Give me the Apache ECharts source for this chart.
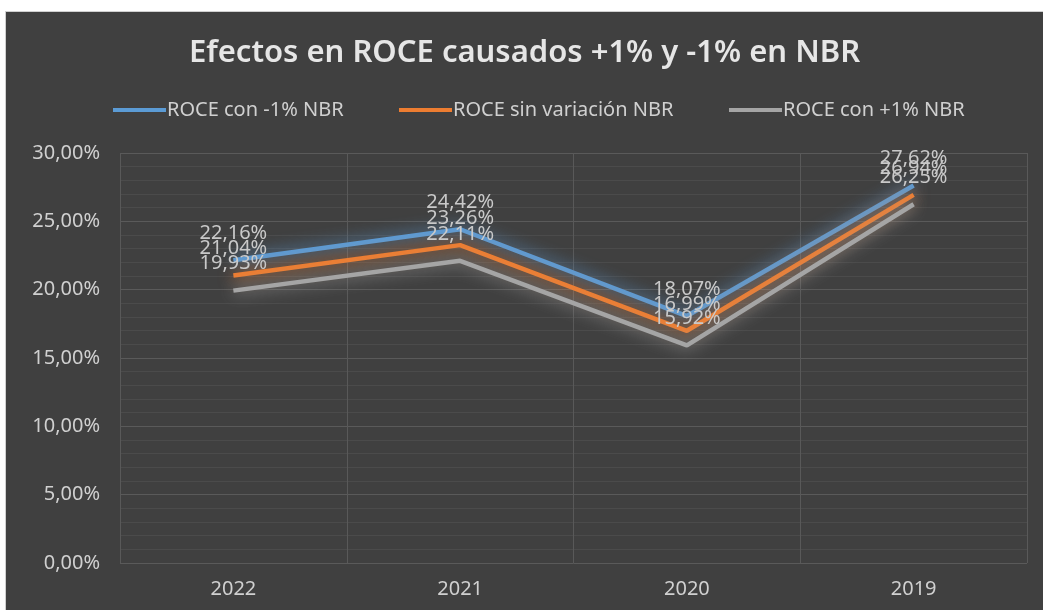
<!DOCTYPE html>
<html>
<head>
<meta charset="utf-8">
<script src="https://cdn.jsdelivr.net/npm/echarts@6/dist/echarts.min.js"></script>
<style>
  html, body { margin: 0; padding: 0; background: #ffffff; }
  #chart {
    position: absolute; left: 5px; top: 11px;
    width: 1038px; height: 599px;
    border-left: 1px solid #d0d0d0; border-top: 1px solid #d0d0d0;
    box-sizing: border-box;
  }
</style>
</head>
<body>
<div id="chart"></div>
<script>
const years = ['2022', '2021', '2020', '2019'];
const roceMinus = [22.16, 24.42, 18.07, 27.62];
const roceBase = [21.04, 23.26, 16.99, 26.94];
const rocePlus = [19.93, 22.11, 15.92, 26.25];
const seriesNames = ['ROCE con -1% NBR', 'ROCE sin variación NBR', 'ROCE con +1% NBR'];
const colors = ['#5b9bd5', '#ed7d31', '#a5a5a5'];

const FONT = '"Noto Sans", sans-serif';
const pct = (v) => v.toFixed(2).replace('.', ',') + '%';

const chart = echarts.init(document.getElementById('chart'));

function line(name, data, color) {
  return {
    name,
    type: 'line',
    data,
    symbol: 'circle',
    symbolSize: 0,
    showSymbol: true,
    itemStyle: { color },
    lineStyle: {
      width: 4.5,
      color,
      shadowColor: color,
      shadowBlur: 16,
    },
    label: {
      show: true,
      position: 'top',
      distance: 17,
      formatter: (p) => pct(p.value),
      color: '#c9c9c9',
      fontFamily: FONT,
      fontSize: 20,
      lineHeight: 20,
    },
    emphasis: { disabled: true },
    z: 3,
  };
}

// one legend per item so each can sit where the original puts it
const legendLefts = [102, 388, 718];
const legends = seriesNames.map((n, i) => ({
  top: 83,
  left: legendLefts[i],
  icon: 'rect',
  itemWidth: 53,
  itemHeight: 4,
  textStyle: { color: '#d0d0d0', fontFamily: FONT, fontSize: 20, padding: [0, 0, 0, -4] },
  data: [n],
}));

chart.setOption({
  backgroundColor: '#404040',
  animation: false,
  title: {
    text: 'Efectos en ROCE causados +1% y -1% en NBR',
    left: 'center',
    top: 21,
    textStyle: {
      color: '#e6e6e6',
      fontFamily: FONT,
      fontSize: 31,
      fontWeight: 600,
    },
  },
  legend: legends,
  grid: { left: 114, right: 16, top: 141, bottom: 47, containLabel: false },
  xAxis: {
    type: 'category',
    data: years,
    boundaryGap: true,
    axisLine: { show: false },
    axisTick: { show: false },
    axisLabel: { color: '#d0d0d0', fontFamily: FONT, fontSize: 20, margin: 16 },
    splitLine: { show: true, lineStyle: { color: '#595959', width: 1 } },
  },
  yAxis: {
    type: 'value',
    min: 0,
    max: 30,
    interval: 5,
    axisLine: { show: false },
    axisTick: { show: false },
    axisLabel: {
      color: '#d0d0d0',
      fontFamily: FONT,
      fontSize: 20,
      margin: 20,
      formatter: (v) => pct(v),
    },
    splitLine: { show: true, lineStyle: { color: '#5a5a5a', width: 1 } },
    minorTick: { show: false, splitNumber: 5 },
    minorSplitLine: { show: true, lineStyle: { color: '#4b4b4b', width: 1 } },
  },
  series: [
    line(seriesNames[0], roceMinus, colors[0]),
    line(seriesNames[1], roceBase, colors[1]),
    line(seriesNames[2], rocePlus, colors[2]),
  ],
});
</script>
</body>
</html>
